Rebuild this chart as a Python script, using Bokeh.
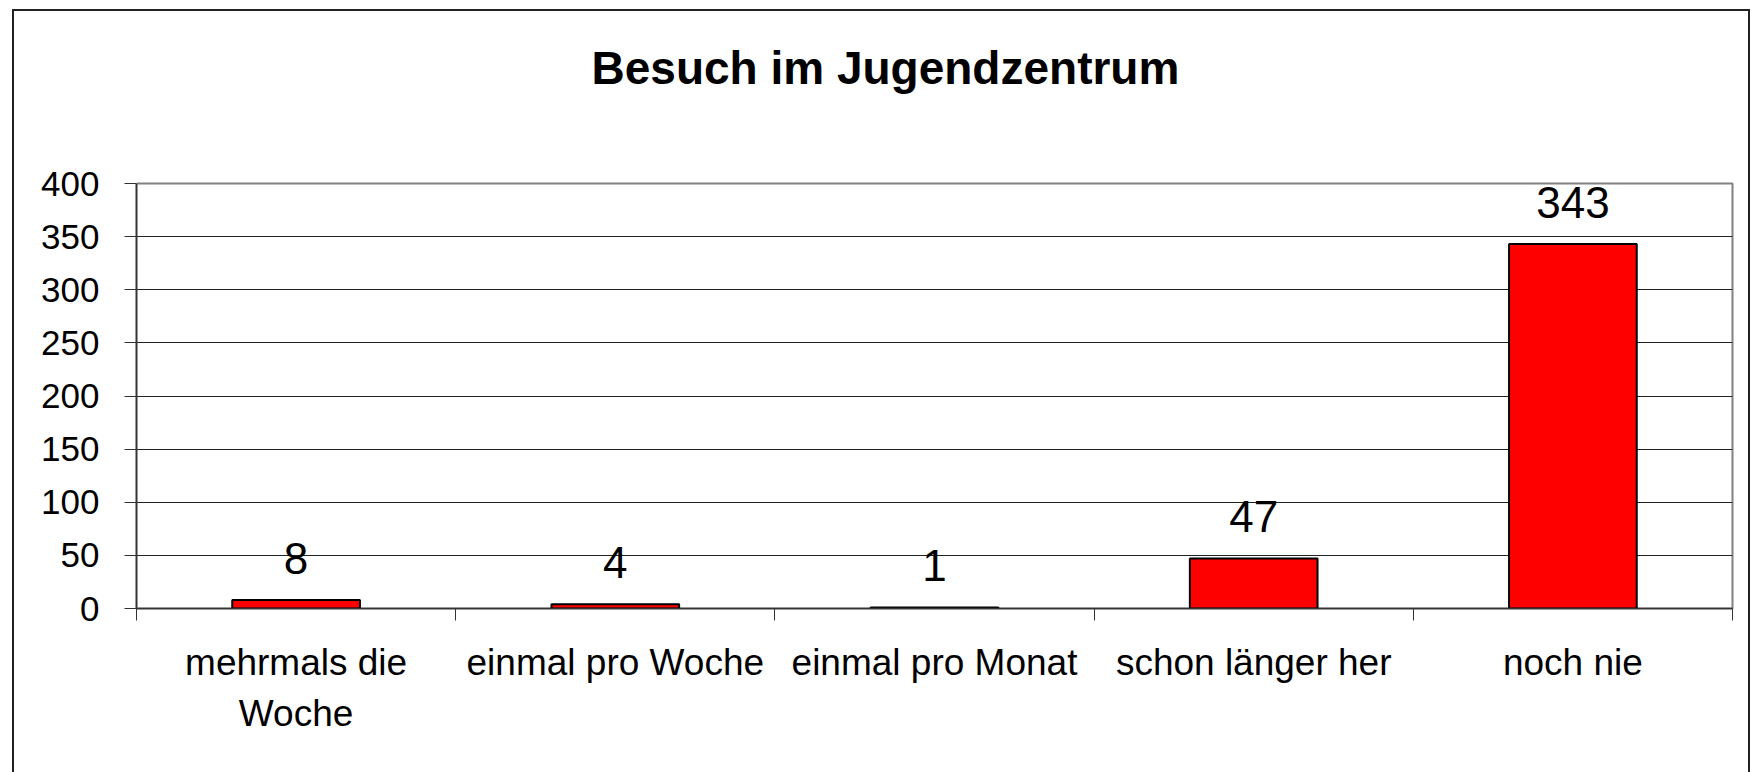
from bokeh.plotting import figure
from bokeh.models import FixedTicker, Range1d, ColumnDataSource, LinearAxis
from bokeh.core.properties import value
from bokeh.embed import file_html
from bokeh.resources import INLINE

categories = ["mehrmals die\nWoche", "einmal pro Woche", "einmal pro Monat", "schon länger her", "noch nie"]
values = [8, 4, 1, 47, 343]
y_ticks = [0, 50, 100, 150, 200, 250, 300, 350, 400]
title_text = "Besuch im Jugendzentrum"

FONT = "Liberation Sans"

xs = [i + 0.5 for i in range(len(categories))]
src = ColumnDataSource(dict(x=xs, top=values, label=[str(v) for v in values]))

p = figure(width=1751, height=772, output_backend="svg", toolbar_location=None,
           x_range=Range1d(0, len(categories)), y_range=Range1d(0, 400),
           min_border_left=136, min_border_right=19, min_border_top=183, min_border_bottom=164)

xax = p.below[0]
yax = p.left[0]

# spacer axis above the frame (white tick on white) to push the title up
spacer = LinearAxis(ticker=FixedTicker(ticks=[0], minor_ticks=[]), axis_line_color=None,
                    major_tick_out=90, major_tick_in=0, major_tick_line_color="white",
                    minor_tick_out=0, minor_tick_in=0, minor_tick_line_color=None,
                    major_label_standoff=0, major_label_overrides={0: ""},
                    major_label_text_font_size="1px", major_label_text_color="white")
p.add_layout(spacer, "above")

p.title.text = title_text
p.title.align = "left"
p.title.offset = 455
p.title.standoff = 0
p.title.text_font = FONT
p.title.text_font_size = "46px"
p.title.text_font_style = "bold"
p.title.text_color = "black"

p.vbar(x="x", top="top", bottom=0, width=0.4, source=src,
       fill_color="#FF0000", line_color="black", line_width=2)
p.text(x="x", y="top", text="label", source=src, text_align="center",
       text_baseline="alphabetic", y_offset=-42, text_font_size="44px",
       text_font=value(FONT), text_color="black")

# x axis: labels at centres, tick marks at category boundaries
xax.ticker = FixedTicker(ticks=xs, minor_ticks=list(range(len(categories) + 1)))
xax.major_label_overrides = {x: c for x, c in zip(xs, categories)}
xax.major_tick_out = 0
xax.major_tick_in = 0
xax.minor_tick_out = 12
xax.minor_tick_in = 0
xax.minor_tick_line_color = "#333333"
xax.axis_line_color = "#333333"
xax.axis_line_width = 1.5
xax.major_label_text_font = FONT
xax.major_label_text_font_size = "37px"
xax.major_label_text_color = "black"
xax.major_label_text_line_height = 1.25
xax.major_label_standoff = 21

yax.ticker = FixedTicker(ticks=y_ticks, minor_ticks=[])
yax.major_tick_out = 12
yax.major_tick_in = 0
yax.major_tick_line_color = "#333333"
yax.axis_line_color = "#333333"
yax.axis_line_width = 1.5
yax.major_label_text_font = FONT
yax.major_label_text_font_size = "35px"
yax.major_label_text_color = "black"
yax.major_label_standoff = 25

p.xgrid.grid_line_color = None
p.ygrid.ticker = FixedTicker(ticks=y_ticks)
p.ygrid.grid_line_color = "#222222"
p.ygrid.grid_line_width = 1

p.outline_line_color = "#808080"
p.outline_line_width = 2
p.background_fill_color = "white"
p.border_fill_color = None

# outer chart border (left, top, right) drawn behind the transparent canvas border
p.styles = {
    "background-color": "white",
    "background-image": "linear-gradient(#222222,#222222), linear-gradient(#222222,#222222), linear-gradient(#222222,#222222)",
    "background-position": "12px 9px, 12px 9px, 1748px 9px",
    "background-size": "2px 900px, 1738px 2px, 2px 900px",
    "background-repeat": "no-repeat",
}

open("out.html", "w").write(file_html(p, INLINE))
